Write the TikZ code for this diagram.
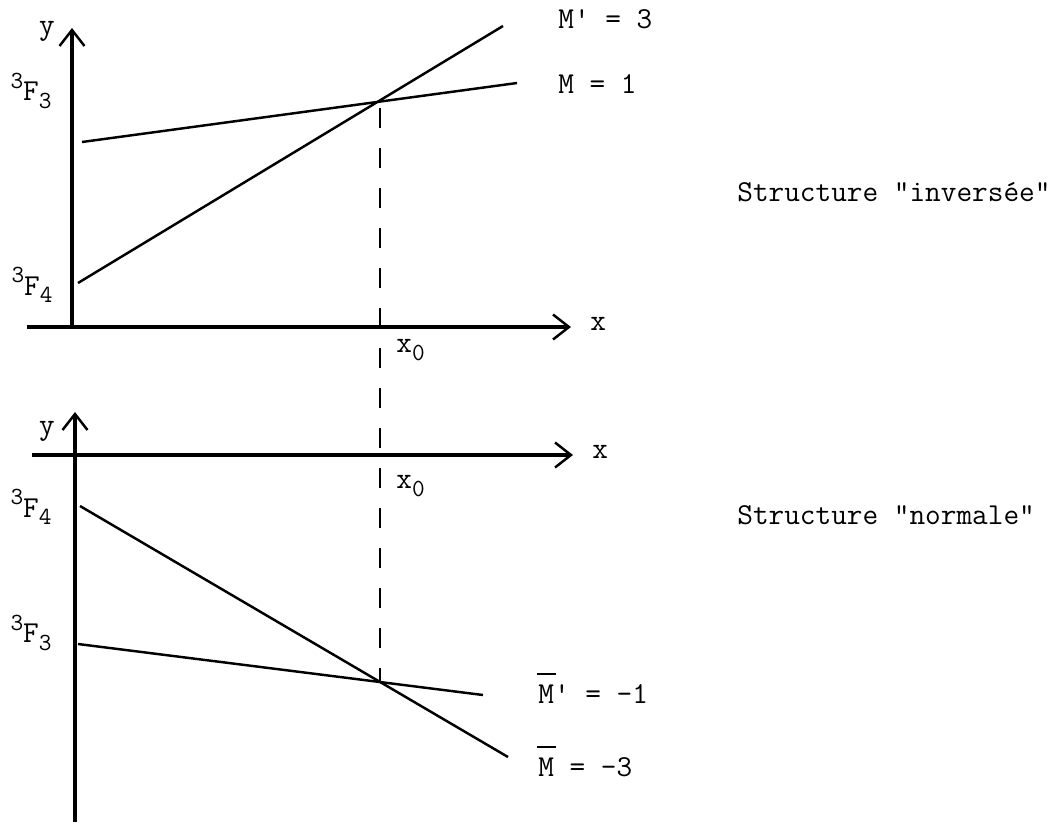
\documentclass[tikz,border=0pt]{standalone}
\usepackage{fontspec}
\usepackage{tikz}
\usetikzlibrary{arrows.meta,positioning}

\newcommand{\lvl}[2]{{\fontsize{14}{14}\selectfont\raisebox{0.5em}{#1}}F{\fontsize{14}{14}\selectfont\raisebox{-0.3em}{#2}}}
\newcommand{\xzero}{x{\fontsize{14}{14}\selectfont\raisebox{-0.35em}{0}}}
\newcommand{\barM}{\makebox[0pt][l]{\hspace{-0.05em}\rule[0.95em]{0.62em}{1.3pt}}M}

\begin{document}
\begin{tikzpicture}[x=0.2mm, y=-0.2mm,
    every node/.style={font=\ttfamily\fontsize{17.3}{20}\selectfont, inner sep=0pt},
    axis/.style={line width=1.8pt, -{Straight Barb[length=3.2mm,width=5mm,line width=1.4pt]}},
    level/.style={line width=1.4pt},
    guide/.style={line width=1.3pt, dash pattern=on 4mm off 4mm, dash phase=-1.5mm}
]
\useasboundingbox (0,0) rectangle (1059,825);

% upper diagram: structure "inversee"
\coordinate (yA0) at (72,327);
\coordinate (yA1) at (72,28);
\coordinate (xA0) at (27,327);
\coordinate (xA1) at (571,327);
\draw[axis] (yA0) -- (yA1);
\draw[axis] (xA0) -- (xA1);
\node[anchor=base] (yA) at (47,34) {y};
\node[anchor=mid west] (xA) at (590,327) {x};

\coordinate (mA0) at (82,142);
\coordinate (mA1) at (517,83);
\coordinate (pA0) at (78,283);
\coordinate (pA1) at (503,26);
\draw[level] (mA0) -- (mA1);
\draw[level] (pA0) -- (pA1);
\coordinate (crossA) at (380,100);

\node (fA3) at (31,91) {\lvl{3}{3}};
\node (fA4) at (32,285) {\lvl{3}{4}};
\node[anchor=mid west] (lblP) at (558,25) {M' = 3};
\node[anchor=mid west] (lblM) at (558,90) {M = 1};
\node[anchor=base west] (x0A) at (396,352) {\xzero};
\node[anchor=mid west] (inv) at (737,198) {Structure "inversée"};

% lower diagram: structure "normale"
\coordinate (yB0) at (75,822);
\coordinate (yB1) at (75,412);
\coordinate (xB0) at (32,455);
\coordinate (xB1) at (573,455);
\draw[axis] (yB0) -- (yB1);
\draw[axis] (xB0) -- (xB1);
\node[anchor=base] (yB) at (47,434) {y};
\node[anchor=mid west] (xB) at (592,455) {x};

\coordinate (mB0) at (80,506);
\coordinate (mB1) at (508,757);
\coordinate (pB0) at (78,644);
\coordinate (pB1) at (483,695);
\draw[level] (mB0) -- (mB1);
\draw[level] (pB0) -- (pB1);
\coordinate (crossB) at (380,682);

\node (fB4) at (31,507) {\lvl{3}{4}};
\node (fB3) at (31,633) {\lvl{3}{3}};
\node[anchor=mid west] (lblPB) at (538,700) {\barM' = -1};
\node[anchor=mid west] (lblMB) at (538,773) {\barM{} = -3};
\node[anchor=base west] (x0B) at (396,488) {\xzero};
\node[anchor=mid west] (nor) at (737,521) {Structure "normale"};

% x0 guide
\draw[guide] (crossA) -- (crossB);
\end{tikzpicture}
\end{document}
